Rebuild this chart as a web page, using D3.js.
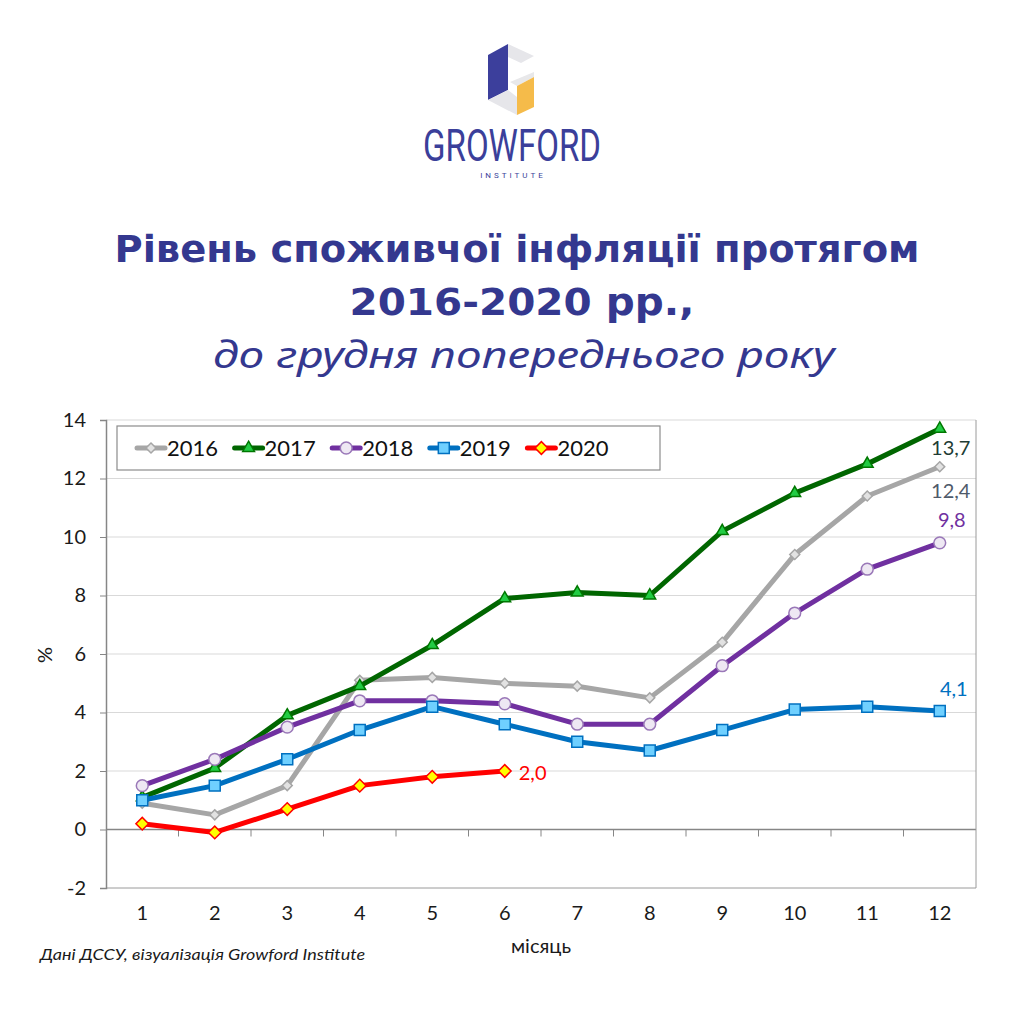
<!DOCTYPE html>
<html lang="uk">
<head>
<meta charset="UTF-8">
<title>Рівень споживчої інфляції</title>
<script src="https://cdn.jsdelivr.net/npm/d3@7"></script>
<style>
  body { margin: 0; background: #fff; }
  svg { display: block; }
</style>
</head>
<body>
<script>
// data
var months = [1, 2, 3, 4, 5, 6, 7, 8, 9, 10, 11, 12];
var years = ['2016', '2017', '2018', '2019', '2020'];
var v2016 = [0.9, 0.5, 1.5, 5.1, 5.2, 5.0, 4.9, 4.5, 6.4, 9.4, 11.4, 12.4];
var v2017 = [1.1, 2.1, 3.9, 4.9, 6.3, 7.9, 8.1, 8.0, 10.2, 11.5, 12.5, 13.7];
var v2018 = [1.5, 2.4, 3.5, 4.4, 4.4, 4.3, 3.6, 3.6, 5.6, 7.4, 8.9, 9.8];
var v2019 = [1.0, 1.5, 2.4, 3.4, 4.2, 3.6, 3.0, 2.7, 3.4, 4.1, 4.2, 4.05];
var v2020 = [0.2, -0.1, 0.7, 1.5, 1.8, 2.0];
var endLabels = ['12,4', '13,7', '9,8', '4,1', '2,0'];
var yTicks = [-2, 0, 2, 4, 6, 8, 10, 12, 14];

var seriesValues = [v2016, v2017, v2018, v2019, v2020];

// styles per series (rot = rotate symbol, square -> diamond)
var styles = [
  {line: '#a6a6a6', shape: d3.symbolSquare, rot: 45, size: 50, fill: '#e2e2e2', stroke: '#a6a6a6', label: '#4f5a6a', dx: 11, dy: 31, anchor: 'middle'},
  {line: '#006600', shape: d3.symbolTriangle, rot: 0, size: 60, fill: '#22cc44', stroke: '#007700', label: '#1f3d35', dx: 11, dy: 26, anchor: 'middle'},
  {line: '#7030a0', shape: d3.symbolCircle, rot: 0, size: 110, fill: '#eee8f3', stroke: '#9a78b8', label: '#7030a0', dx: 12, dy: -16, anchor: 'middle'},
  {line: '#0070c0', shape: d3.symbolSquare, rot: 0, size: 120, fill: '#6fd0ff', stroke: '#0070c0', label: '#0070c0', dx: 14, dy: -15, anchor: 'middle'},
  {line: '#ff0000', shape: d3.symbolSquare, rot: 45, size: 80, fill: '#ffff00', stroke: '#ff0000', label: '#ff0000', dx: 14, dy: 9, anchor: 'start'}
];

var W = 1024, H = 1024;
var svg = d3.select('body').append('svg')
    .attr('width', W)
    .attr('height', H);

var navy = '#34388f';

// logo icon
var logo = svg.append('g');
var polys = [
  {p: [[488, 55], [508, 44], [508, 90], [488, 100]], c: '#3c3f9c'},
  {p: [[508, 44], [534, 56], [521, 63], [508, 57]], c: '#e6e6ea'},
  {p: [[510, 82], [534, 72], [534, 77], [517, 86]], c: '#e8e8ea'},
  {p: [[517, 86], [534, 77], [534, 107], [517, 115]], c: '#f5bb4a'},
  {p: [[488, 100], [508, 90], [517, 97], [517, 115]], c: '#e6e6ea'}
];
logo.selectAll('polygon')
  .data(polys)
  .enter()
  .append('polygon')
  .attr('points', function(d) { return d.p.join(' '); })
  .attr('fill', function(d) { return d.c; });

svg.append('text')
  .attr('x', 512).attr('y', 161)
  .attr('text-anchor', 'middle')
  .attr('font-family', 'Roboto, sans-serif')
  .attr('font-size', 44)
  .attr('fill', '#3b3f9a')
  .attr('textLength', 178)
  .attr('lengthAdjust', 'spacingAndGlyphs')
  .text('GROWFORD');

svg.append('text')
  .attr('x', 513).attr('y', 178)
  .attr('text-anchor', 'middle')
  .attr('font-family', 'Roboto, sans-serif')
  .attr('font-size', 8)
  .attr('letter-spacing', 3)
  .attr('fill', '#3b3f9a')
  .text('INSTITUTE');

// title
svg.append('text')
  .attr('x', 517).attr('y', 262)
  .attr('text-anchor', 'middle')
  .attr('font-family', 'DejaVu Sans, sans-serif')
  .attr('font-weight', 'bold')
  .attr('font-size', 37)
  .attr('fill', navy)
  .attr('textLength', 805)
  .attr('lengthAdjust', 'spacingAndGlyphs')
  .text('Рівень споживчої інфляції протягом');

svg.append('text')
  .attr('x', 522).attr('y', 315)
  .attr('text-anchor', 'middle')
  .attr('font-family', 'DejaVu Sans, sans-serif')
  .attr('font-weight', 'bold')
  .attr('font-size', 37)
  .attr('fill', navy)
  .attr('textLength', 345)
  .attr('lengthAdjust', 'spacingAndGlyphs')
  .text('2016-2020 рр.,');

svg.append('text')
  .attr('x', 524).attr('y', 368)
  .attr('text-anchor', 'middle')
  .attr('font-family', 'Noto Sans, sans-serif')
  .attr('font-style', 'italic')
  .attr('font-size', 36)
  .attr('fill', navy)
  .attr('textLength', 622)
  .attr('lengthAdjust', 'spacingAndGlyphs')
  .text('до грудня попереднього року');

// chart area
var pLeft = 106, pRight = 976, pTop = 420, pBottom = 888;
var chartFont = 'Lato, Carlito, sans-serif';

var x = d3.scaleBand()
  .domain(months)
  .range([pLeft, pRight])
  .padding(0);

var y = d3.scaleLinear()
  .domain([-2, 14])
  .range([pBottom, pTop]);

// gridlines
svg.append('g')
  .selectAll('line')
  .data(yTicks.filter(function(d) { return d > -2; }))
  .enter()
  .append('line')
  .attr('x1', pLeft).attr('x2', pRight)
  .attr('y1', function(d) { return y(d); })
  .attr('y2', function(d) { return y(d); })
  .attr('stroke', function(d) { return d === 0 ? '#868686' : '#d9d9d9'; })
  .attr('stroke-width', function(d) { return d === 0 ? 1.5 : 1; });

// plot border right and bottom
svg.append('line')
  .attr('x1', pRight).attr('x2', pRight)
  .attr('y1', pTop).attr('y2', pBottom)
  .attr('stroke', '#9a9a9a');
svg.append('line')
  .attr('x1', pLeft).attr('x2', pRight)
  .attr('y1', pBottom).attr('y2', pBottom)
  .attr('stroke', '#9a9a9a');

// y axis
var yAxis = svg.append('g')
  .attr('transform', 'translate(' + pLeft + ',0)')
  .call(d3.axisLeft(y)
    .tickValues(yTicks)
    .tickFormat(function(d) { return String(d); })
    .tickSize(6)
    .tickPadding(14));
yAxis.select('.domain').attr('stroke', '#868686').attr('stroke-width', 1.5);
yAxis.selectAll('.tick line').attr('stroke', '#868686');
yAxis.selectAll('text')
  .attr('font-family', chartFont)
  .attr('font-size', 20)
  .attr('fill', '#1a1a1a');

// x tick marks at category boundaries on the zero line
svg.append('g')
  .selectAll('line')
  .data(months.slice(1))
  .enter()
  .append('line')
  .attr('x1', function(d) { return x(d); })
  .attr('x2', function(d) { return x(d); })
  .attr('y1', y(0)).attr('y2', y(0) + 7)
  .attr('stroke', '#868686');

// x labels
var xAxis = svg.append('g')
  .attr('transform', 'translate(0,' + pBottom + ')')
  .call(d3.axisBottom(x).tickSize(0).tickPadding(18));
xAxis.select('.domain').remove();
xAxis.selectAll('text')
  .attr('font-family', chartFont)
  .attr('font-size', 20)
  .attr('fill', '#1a1a1a');

svg.append('text')
  .attr('x', 541).attr('y', 953)
  .attr('text-anchor', 'middle')
  .attr('font-family', chartFont)
  .attr('font-size', 20)
  .attr('fill', '#1a1a1a')
  .text('місяць');

svg.append('text')
  .attr('transform', 'translate(52,655) rotate(-90)')
  .attr('text-anchor', 'middle')
  .attr('font-family', chartFont)
  .attr('font-size', 20)
  .attr('fill', '#1a1a1a')
  .text('%');

// lines
var line = d3.line()
  .x(function(d, i) { return x(months[i]) + x.bandwidth() / 2; })
  .y(function(d) { return y(d); });

years.forEach(function(yr, k) {
  var st = styles[k];
  var vals = seriesValues[k];
  var g = svg.append('g');
  g.append('path')
    .attr('d', line(vals))
    .attr('fill', 'none')
    .attr('stroke', st.line)
    .attr('stroke-width', 5)
    .attr('stroke-linejoin', 'round');
  g.selectAll('path.m')
    .data(vals)
    .enter()
    .append('path')
    .attr('class', 'm')
    .attr('d', d3.symbol().type(st.shape).size(st.size))
    .attr('transform', function(d, i) {
      return 'translate(' + (x(months[i]) + x.bandwidth() / 2) + ',' + y(d) + ') rotate(' + st.rot + ')';
    })
    .attr('fill', st.fill)
    .attr('stroke', st.stroke)
    .attr('stroke-width', 1.5);
  var n = vals.length - 1;
  g.append('text')
    .attr('x', x(months[n]) + x.bandwidth() / 2 + st.dx)
    .attr('y', y(vals[n]) + st.dy)
    .attr('text-anchor', st.anchor)
    .attr('font-family', chartFont)
    .attr('font-size', 20)
    .attr('fill', st.label)
    .text(endLabels[k]);
});

// legend
var legend = svg.append('g');
legend.append('rect')
  .attr('x', 117).attr('y', 426)
  .attr('width', 543).attr('height', 44)
  .attr('fill', '#fff')
  .attr('stroke', '#8c8c8c')
  .attr('stroke-width', 1.2);

var item = legend.selectAll('g.item')
  .data(years)
  .enter()
  .append('g')
  .attr('class', 'item')
  .attr('transform', function(d, i) { return 'translate(' + (137 + i * 97.6) + ',448)'; });

item.append('line')
  .attr('x1', 0).attr('x2', 28)
  .attr('stroke', function(d, i) { return styles[i].line; })
  .attr('stroke-width', 5)
  .attr('stroke-linecap', 'round');
item.append('path')
  .attr('d', function(d, i) { return d3.symbol().type(styles[i].shape).size(styles[i].size)(); })
  .attr('transform', function(d, i) { return 'translate(14,0) rotate(' + styles[i].rot + ')'; })
  .attr('fill', function(d, i) { return styles[i].fill; })
  .attr('stroke', function(d, i) { return styles[i].stroke; })
  .attr('stroke-width', 1.5);
item.append('text')
  .attr('x', 30).attr('y', 8)
  .attr('font-family', chartFont)
  .attr('font-size', 22)
  .attr('fill', '#111')
  .text(function(d) { return d; });

// source
svg.append('text')
  .attr('x', 40).attr('y', 960)
  .attr('font-family', chartFont)
  .attr('font-style', 'italic')
  .attr('font-size', 16)
  .attr('fill', '#1a1a1a')
  .attr('textLength', 325)
  .attr('lengthAdjust', 'spacingAndGlyphs')
  .text('Дані ДССУ, візуалізація Growford Institute');
</script>
</body>
</html>
